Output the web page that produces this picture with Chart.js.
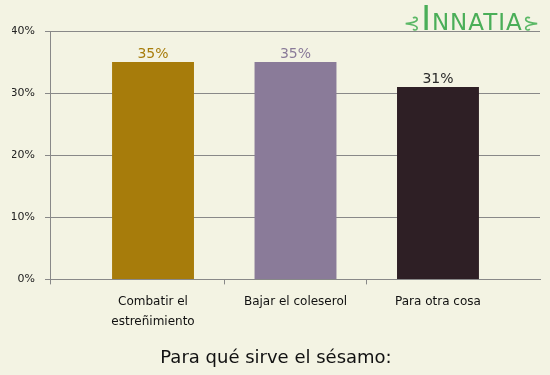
<!DOCTYPE html>
<html>
<head>
<meta charset="utf-8">
<script src="https://cdn.jsdelivr.net/npm/chart.js@4.4.0/dist/chart.umd.min.js"></script>
<style>
  html, body { margin: 0; padding: 0; background: #F3F3E3; }
  #wrap { position: relative; width: 550px; height: 375px; }
  #logo {
    position: absolute; left: 396px; top: 1px; width: 152px; text-align: center;
    font-family: "DejaVu Sans", sans-serif; color: #4AAE58; font-size: 23px; letter-spacing: 1px;
    line-height: 36px;
  }
  #logo .big { font-size: 33px; }
  #logo .orn { font-size: 20px; color: #5BB866; }
</style>
</head>
<body>
<div id="wrap">
  <canvas id="myChart" width="550" height="375"></canvas>
  <div id="logo"><span class="orn">⊰</span><span class="big">I</span>NNATIA<span class="orn">⊱</span></div>
</div>
<script>
const categories = [['Combatir el', 'estreñimiento'], 'Bajar el coleserol', 'Para otra cosa'];
const values = [35, 35, 31];
const barColors = ['#A77C0B', '#8A7B99', '#2E1F25'];
const labelColors = ['#A77C0B', '#8A7B99', '#2a2a2a'];
const yTicks = [0, 10, 20, 30, 40];
const chartTitle = 'Para qué sirve el sésamo:';

const FONT = '"DejaVu Sans", sans-serif';

// value labels above the bars, placed from the bar elements
const valueLabels = {
  id: 'valueLabels',
  afterDatasetsDraw(chart) {
    const ctx = chart.ctx;
    const meta = chart.getDatasetMeta(0);
    ctx.save();
    ctx.font = '14px ' + FONT;
    ctx.textAlign = 'center';
    ctx.textBaseline = 'middle';
    meta.data.forEach((bar, i) => {
      ctx.fillStyle = labelColors[i];
      ctx.fillText(values[i] + '%', bar.x, bar.y - 8);
    });
    ctx.restore();
  }
};

const points = values.map((v, i) => ({ x: i, y: v }));

new Chart(document.getElementById('myChart'), {
  type: 'bar',
  data: {
    datasets: [{
      data: points,
      backgroundColor: barColors,
      borderWidth: 0,
      categoryPercentage: 1,
      // ticks every 0.5 set the bar slot, so this is 0.575 of a category
      barPercentage: 1.15
    }]
  },
  options: {
    responsive: false,
    animation: false,
    events: [],
    layout: { padding: { top: 31, right: 10, left: 12, bottom: 0 } },
    plugins: {
      legend: { display: false },
      tooltip: { enabled: false },
      title: {
        display: true,
        position: 'bottom',
        text: chartTitle,
        color: '#111',
        font: { family: FONT, size: 18, weight: 'normal' },
        padding: { top: 18, bottom: 6 }
      }
    },
    scales: {
      x: {
        type: 'linear',
        offset: false,
        min: -0.723,
        max: 2.716,
        afterBuildTicks(scale) {
          scale.ticks = [-0.723, 0, 0.5, 1, 1.5, 2].map(v => ({ value: v }));
        },
        afterFit(scale) { scale.height = 50; },
        ticks: {
          autoSkip: false,
          maxRotation: 0,
          padding: 7,
          color: '#111',
          font: { family: FONT, size: 12, lineHeight: 1.7 },
          callback: v => (Number.isInteger(v) ? categories[v] : '')
        },
        grid: {
          offset: false,
          drawOnChartArea: false,
          tickLength: 5,
          tickColor: c => (c.tick && Number.isInteger(c.tick.value) ? 'rgba(0,0,0,0)' : '#888')
        },
        border: { color: '#888', width: 1 }
      },
      y: {
        min: 0,
        max: 40,
        afterBuildTicks(scale) {
          scale.ticks = yTicks.map(v => ({ value: v }));
        },
        afterFit(scale) { scale.width = 38; },
        ticks: {
          padding: 10,
          color: '#222',
          font: { family: FONT, size: 11 },
          callback: v => v + '%'
        },
        grid: { color: '#888', tickLength: 5, tickColor: '#888' },
        border: { color: '#888', width: 1 }
      }
    }
  },
  plugins: [valueLabels]
});
</script>
</body>
</html>
